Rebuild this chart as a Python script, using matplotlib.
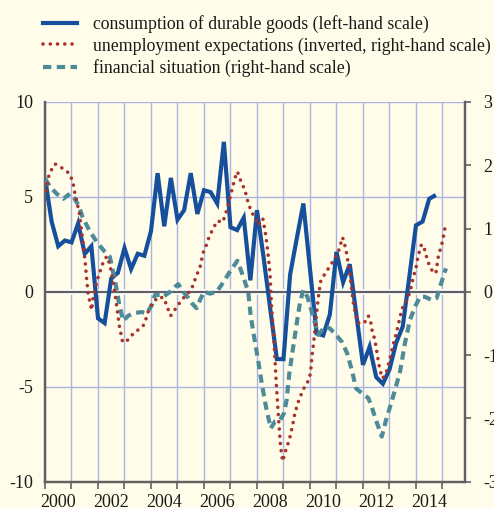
import matplotlib
matplotlib.use("Agg")
import matplotlib.pyplot as plt
from matplotlib.lines import Line2D

# consumption of durable goods, quarterly from 2000 Q1 (left-hand scale)
durables = [
    6.0, 3.7, 2.4, 2.7, 2.6, 3.6, 2.0, 2.4,
    -1.4, -1.65, 0.7, 1.0, 2.3, 1.2, 2.0, 1.9,
    3.2, 6.25, 3.45, 6.0, 3.8, 4.3, 6.25, 4.1,
    5.35, 5.25, 4.65, 7.9, 3.4, 3.25, 3.9, 0.6,
    4.3, 1.8, -0.9, -3.55, -3.55, 0.9, 2.8, 4.65,
    1.2, -2.2, -2.3, -1.2, 2.1, 0.5, 1.45, -1.2,
    -3.85, -2.9, -4.5, -4.85, -4.1, -2.7, -1.84, 0.8,
    3.5, 3.7, 4.9, 5.1,
]
durables_t = [2000 + i / 4 for i in range(len(durables))]

# unemployment expectations, inverted (right-hand scale)
unemp_t = [
    2000.04, 2000.16, 2000.38, 2000.67, 2000.92, 2001.05, 2001.13, 2001.29,
    2001.38, 2001.51, 2001.57, 2001.63, 2001.70, 2001.76, 2001.82, 2001.92,
    2002.01, 2002.10, 2002.20, 2002.33, 2002.43, 2002.49, 2002.60, 2002.71,
    2002.80, 2002.93, 2003.14, 2003.33, 2003.56, 2003.74, 2003.84, 2003.92,
    2004.06, 2004.28, 2004.49, 2004.63, 2004.74, 2004.94, 2005.09, 2005.32,
    2005.51, 2005.72, 2005.85, 2005.97, 2006.10, 2006.20, 2006.35, 2006.50,
    2006.71, 2006.88, 2007.05, 2007.17, 2007.26, 2007.38, 2007.55, 2007.67,
    2007.80, 2007.96, 2008.05, 2008.22, 2008.34, 2008.43, 2008.49, 2008.55,
    2008.64, 2008.72, 2008.80, 2008.89, 2008.97, 2009.09, 2009.22, 2009.35,
    2009.43, 2009.56, 2009.69, 2009.81, 2009.97, 2010.03, 2010.08, 2010.12,
    2010.19, 2010.25, 2010.31, 2010.40, 2010.57, 2010.73, 2010.91, 2011.07,
    2011.23, 2011.28, 2011.36, 2011.41, 2011.47, 2011.54, 2011.61, 2011.66,
    2011.74, 2011.78, 2012.04, 2012.20, 2012.29, 2012.33, 2012.42, 2012.49,
    2012.58, 2012.64, 2012.74, 2012.87, 2012.95, 2013.02, 2013.09, 2013.17,
    2013.25, 2013.32, 2013.40, 2013.46, 2013.58, 2013.71, 2013.77, 2013.84,
    2013.90, 2014.00, 2014.05, 2014.12, 2014.21, 2014.31, 2014.40, 2014.50,
    2014.63, 2014.75, 2014.84, 2014.93, 2015.01, 2015.06, 2015.12,
]
unemp_inv = [
    1.6, 1.87, 2.02, 1.95, 1.87, 1.74, 1.55, 1.26,
    0.97, 0.5, 0.21, -0.05, -0.17, -0.29, -0.08, 0.09,
    0.24, 0.35, 0.47, 0.56, 0.45, 0.34, 0.08, -0.24,
    -0.53, -0.8, -0.76, -0.66, -0.59, -0.52, -0.39, -0.28,
    -0.18, -0.08, -0.1, -0.26, -0.38, -0.26, -0.17, -0.05,
    0.02, 0.26, 0.39, 0.62, 0.75, 0.88, 1.0, 1.12,
    1.1, 1.32, 1.6, 1.8, 1.9, 1.76, 1.6, 1.4,
    1.26, 1.14, 1.05, 1.16, 0.87, 0.55, 0.29, -0.24,
    -0.76, -1.39, -1.92, -2.45, -2.68, -2.5, -2.34, -2.1,
    -1.92, -1.74, -1.6, -1.49, -1.39, -1.24, -1.0, -0.87,
    -0.6, -0.34, -0.1, 0.16, 0.29, 0.39, 0.51, 0.63,
    0.86, 0.79, 0.66, 0.53, 0.4, 0.16, -0.1, -0.24,
    -0.37, -0.49, -0.5, -0.38, -0.47, -0.59, -0.72, -0.86,
    -1.1, -1.24, -1.37, -1.29, -1.17, -1.05, -0.93, -0.79,
    -0.67, -0.54, -0.4, -0.28, -0.19, -0.08, 0.0, 0.11,
    0.24, 0.37, 0.5, 0.62, 0.75, 0.69, 0.55, 0.42,
    0.32, 0.29, 0.55, 0.69, 0.81, 0.93, 1.07,
]

# financial situation (right-hand scale)
finsit_t = [
    2000.00, 2000.19, 2000.44, 2000.69, 2000.94, 2001.09, 2001.26, 2001.42,
    2001.67, 2001.95, 2002.20, 2002.45, 2002.58, 2002.71, 2002.80, 2002.95,
    2003.14, 2003.33, 2003.65, 2003.84, 2004.03, 2004.15, 2004.34, 2004.46,
    2004.72, 2004.91, 2005.03, 2005.22, 2005.41, 2005.54, 2005.72, 2005.85,
    2006.00, 2006.23, 2006.48, 2006.73, 2006.98, 2007.26, 2007.43, 2007.67,
    2007.76, 2007.89, 2008.05, 2008.18, 2008.34, 2008.52, 2008.68, 2008.87,
    2009.02, 2009.12, 2009.22, 2009.35, 2009.50, 2009.62, 2009.75, 2009.90,
    2010.03, 2010.19, 2010.31, 2010.57, 2010.75, 2010.98, 2011.20, 2011.40,
    2011.58, 2011.74, 2011.95, 2012.20, 2012.33, 2012.49, 2012.71, 2012.87,
    2013.02, 2013.21, 2013.40, 2013.58, 2013.77, 2013.96, 2014.15, 2014.34,
    2014.59, 2014.78, 2014.91, 2015.03, 2015.13,
]
finsit = [
    1.79, 1.66, 1.55, 1.47, 1.55, 1.49, 1.37, 1.18,
    0.97, 0.79, 0.66, 0.55, 0.29, 0.03, -0.2, -0.46,
    -0.38, -0.34, -0.32, -0.34, -0.21, -0.05, -0.05, -0.08,
    0.0, 0.08, 0.12, 0.0, -0.1, -0.18, -0.26, -0.13,
    0.0, -0.03, 0.0, 0.15, 0.32, 0.49, 0.3, 0.0,
    -0.37, -0.71, -1.1, -1.45, -1.82, -2.16, -2.05, -2.03,
    -1.92, -1.71, -1.29, -0.92, -0.5, -0.18, 0.03, -0.08,
    -0.26, -0.5, -0.68, -0.55, -0.58, -0.68, -0.79, -0.97,
    -1.24, -1.53, -1.6, -1.68, -1.82, -2.03, -2.29, -2.03,
    -1.82, -1.55, -1.26, -0.82, -0.45, -0.24, -0.08, -0.08,
    -0.13, -0.1, 0.08, 0.24, 0.37,
]

labels = [
    "consumption of durable goods (left-hand scale)",
    "unemployment expectations (inverted, right-hand scale)",
    "financial situation (right-hand scale)",
]
left_ticks = [-10, -5, 0, 5, 10]
right_ticks = [-3, -2, -1, 0, 1, 2, 3]
years = list(range(2000, 2016))
year_labels = list(range(2000, 2015, 2))

bg = "#fffde9"
blue = "#164f9c"
red = "#a8322c"
teal = "#4d8b99"
grid_col = "#a9b4e2"
spine_col = "#606060"
text_col = "#1a1a1a"
dotted = (0, (0.01, 2.0))
dashed = (0, (2.0, 1.3))

plt.rcParams["font.family"] = ["Liberation Serif", "DejaVu Serif"]

fig = plt.figure(figsize=(4.94, 5.08), dpi=100, facecolor=bg)
ax = fig.add_axes([45 / 494, 1 - 481.5 / 508, 420 / 494, 379.5 / 508])
ax.set_facecolor(bg)
ax2 = ax.twinx()

ax.set_xlim(2000, 2015.85)
ax.set_ylim(-10, 10)
ax2.set_ylim(-3, 3)

ax.plot(durables_t, durables, color=blue, lw=3.0, solid_joinstyle="miter",
        solid_capstyle="butt", zorder=3)
ax.axhline(0, color="white", lw=4, zorder=2)
ax.axhline(0, color=spine_col, lw=1.6, zorder=2.1)

ax2.plot(finsit_t, finsit, color=teal, lw=3.0, linestyle=dashed,
         dash_capstyle="butt", zorder=3)
ax2.plot(unemp_t, unemp_inv, color=red, lw=2.6, linestyle=dotted,
         dash_capstyle="round", zorder=4)

# grid and ticks
ax.set_xticks(years)
ax.set_xticklabels([])
ax.set_xticks([y + 0.5 for y in year_labels], minor=True)
ax.set_xticklabels([str(y) for y in year_labels], minor=True)
ax.tick_params(axis="x", which="major", direction="out", length=5, width=1.2,
               color=spine_col)
ax.tick_params(axis="x", which="minor", length=0, pad=9, labelsize=13,
               labelcolor=text_col)
ax.grid(axis="x", which="major", color=grid_col, lw=1.0)
ax.set_yticks(left_ticks)
ax.set_yticklabels([str(v) for v in left_ticks])
ax.tick_params(axis="y", length=0, pad=8.5, labelsize=13, labelcolor=text_col)
ax.grid(axis="y", color=grid_col, lw=1.0)
ax.set_axisbelow(True)

ax2.set_yticks(right_ticks)
ax2.set_yticklabels([str(v) for v in right_ticks])
ax2.tick_params(axis="y", direction="out", length=4, width=1.2, color=spine_col,
                pad=9, labelsize=13, labelcolor=text_col)

for a in (ax, ax2):
    a.spines["top"].set_visible(False)
    for side in ("left", "right", "bottom"):
        a.spines[side].set_color(spine_col)
        a.spines[side].set_linewidth(1.6)

handles = [
    Line2D([], [], color=blue, lw=3.0),
    Line2D([], [], color=red, lw=2.6, linestyle=dotted, dash_capstyle="round"),
    Line2D([], [], color=teal, lw=3.0, linestyle=dashed),
]
fig.legend(handles, labels, loc="upper left", bbox_to_anchor=(43 / 494, 1 - 15 / 508),
           frameon=False, fontsize=12.8, handlelength=1.9, handletextpad=0.9,
           labelspacing=0.25, borderpad=0, borderaxespad=0, labelcolor=text_col)

fig.savefig("out.png", dpi=100, facecolor=bg)
